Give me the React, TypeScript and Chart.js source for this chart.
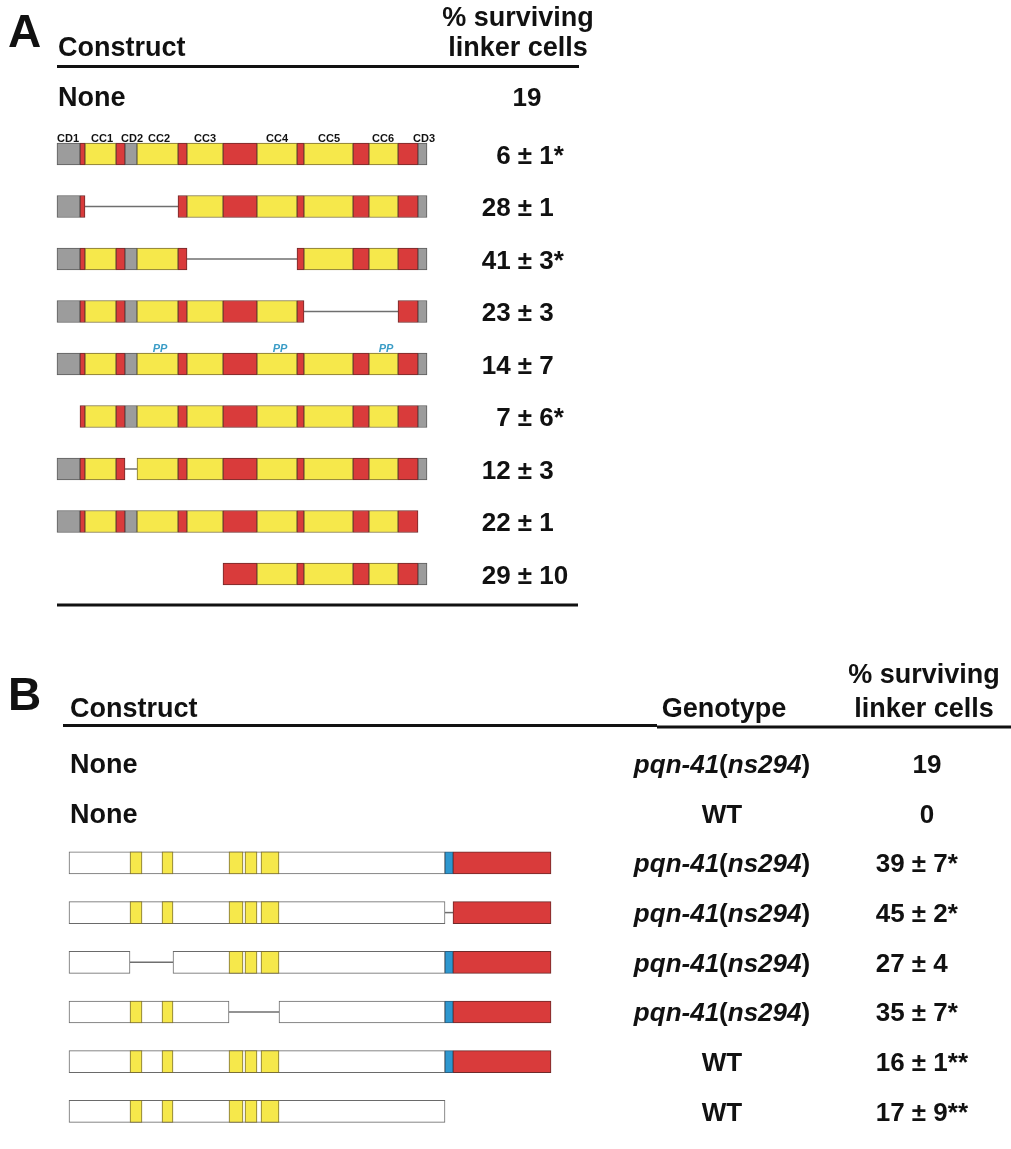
import React, { useEffect, useRef } from "react";
import { Chart, registerables } from "chart.js";

Chart.register(...registerables);

// ---------- Panel A data (positions in construct units along the protein) ----------
const aDomainNames = ["CD1", "CC1", "CD2", "CC2", "CC3", "CC4", "CC5", "CC6", "CD3"];
const aDomainLabelPos = [11, 45, 75, 102, 148, 220, 272, 326, 367];
const aSegStart = [0, 23, 28, 59, 68, 80, 121, 130, 166, 200, 240, 247, 296, 312, 341, 361];
const aSegEnd = [23, 28, 59, 68, 80, 121, 130, 166, 200, 240, 247, 296, 312, 341, 361, 370];
const aSegType = ["gray", "red", "yellow", "red", "gray", "yellow", "red", "yellow", "red", "yellow", "red", "yellow", "red", "yellow", "red", "gray"];
// kept regions for each construct (rows 1..9); gaps are drawn as thin lines
const aKept: number[][][] = [
  [[0, 370]],
  [[0, 28], [121, 370]],
  [[0, 130], [240, 370]],
  [[0, 247], [341, 370]],
  [[0, 370]],
  [[23, 370]],
  [[0, 68], [80, 370]],
  [[0, 361]],
  [[166, 370]],
];
const aPPRow = 5;
const aPPPos = [103, 223, 329];
const aLabels = ["None", "", "", "", "", "", "", "", "", ""];
const aMeans = [19, 6, 28, 41, 23, 14, 7, 12, 22, 29];
const aSem: (number | null)[] = [null, 1, 1, 3, 3, 7, 6, 3, 1, 10];
const aSig = ["", "*", "", "*", "", "", "*", "", "", ""];

// ---------- Panel B data ----------
const bSegStart = [0, 61, 93, 160, 176, 192, 376, 384];
const bSegEnd = [376, 73, 104, 174, 188, 210, 384, 482];
const bSegType = ["white", "yellow", "yellow", "yellow", "yellow", "yellow", "blue", "red"];
const bKept: number[][][] = [
  [],
  [],
  [[0, 482]],
  [[0, 376], [384, 482]],
  [[0, 61], [104, 482]],
  [[0, 160], [210, 482]],
  [[0, 482]],
  [[0, 376]],
];
const bLabels = ["None", "None", "", "", "", "", "", ""];
const bGenotypes = ["pqn-41(ns294)", "WT", "pqn-41(ns294)", "pqn-41(ns294)", "pqn-41(ns294)", "pqn-41(ns294)", "WT", "WT"];
const bMeans = [19, 0, 39, 45, 27, 35, 16, 17];
const bSem: (number | null)[] = [null, null, 7, 2, 4, 7, 1, 9];
const bSig = ["", "", "*", "*", "", "*", "**", "**"];

// ---------- styles ----------
const FONT = '"Liberation Sans", Arial, Helvetica, sans-serif';
const fnt = (size: number, style = "normal", weight = "bold") => `${style} ${weight} ${size}px ${FONT}`;
const fill: Record<string, string> = {
  gray: "#9c9c9c",
  yellow: "#f6e84b",
  red: "#d93b3b",
  white: "#ffffff",
  blue: "#2e97cf",
};
const border: Record<string, string> = {
  gray: "#5c5c5c",
  yellow: "#7a6e36",
  red: "#6e2a2a",
  white: "#6a6a6a",
  blue: "#2a5f80",
};
const order: Record<string, number> = { white: 10, gray: 2, yellow: 1, red: 2, blue: 2 };

function buildBars(
  kept: number[][][],
  rowOffset: number,
  segStart: number[],
  segEnd: number[],
  segType: string[],
  xId: string,
  yId: string
) {
  const types = Array.from(new Set(segType));
  const sets: any[] = [];
  types.forEach((t) => {
    const data: any[] = [];
    kept.forEach((intervals, r) => {
      intervals.forEach(([ks, ke]) => {
        segStart.forEach((s0, i) => {
          if (segType[i] !== t) return;
          const s = Math.max(s0, ks);
          const e = Math.min(segEnd[i], ke);
          if (e > s) data.push({ x: [s, e], y: r + rowOffset });
        });
      });
    });
    sets.push({
      type: "bar",
      indexAxis: "y",
      data,
      xAxisID: xId,
      yAxisID: yId,
      backgroundColor: fill[t],
      borderColor: border[t],
      borderWidth: 1,
      borderSkipped: false,
      barThickness: 22,
      grouped: false,
      order: order[t],
    });
  });
  kept.forEach((intervals, r) => {
    for (let k = 1; k < intervals.length; k++) {
      sets.push({
        type: "line",
        data: [
          { x: intervals[k - 1][1], y: r + rowOffset },
          { x: intervals[k][0], y: r + rowOffset },
        ],
        xAxisID: xId,
        yAxisID: yId,
        borderColor: "#6f6f6f",
        borderWidth: 1.5,
        pointRadius: 0,
        order: 20,
      });
    }
  });
  return sets;
}

function drawPM(ctx: CanvasRenderingContext2D, pmX: number, centerX: number, baseline: number, mean: number, sem: number | null, sig: string, size: number) {
  ctx.font = fnt(size);
  if (sem == null) {
    ctx.textAlign = "center";
    ctx.fillText(`${mean}${sig}`, centerX, baseline);
    return;
  }
  const w = ctx.measureText("±").width;
  ctx.textAlign = "right";
  ctx.fillText(`${mean} `, pmX - w / 2, baseline);
  ctx.textAlign = "center";
  ctx.fillText("±", pmX, baseline);
  ctx.textAlign = "left";
  ctx.fillText(` ${sem}${sig}`, pmX + w / 2, baseline);
}

function drawGenotype(ctx: CanvasRenderingContext2D, text: string, cx: number, baseline: number, size: number) {
  const parts = text.split(/([()])/).filter((p) => p !== "");
  const isWT = text === "WT";
  const fonts = parts.map((p) => (isWT || p === "(" || p === ")" ? fnt(size) : fnt(size, "italic")));
  let total = 0;
  const widths = parts.map((p, i) => {
    ctx.font = fonts[i];
    const w = ctx.measureText(p).width;
    total += w;
    return w;
  });
  let x = cx - total / 2;
  ctx.textAlign = "left";
  parts.forEach((p, i) => {
    ctx.font = fonts[i];
    ctx.fillText(p, x, baseline);
    x += widths[i];
  });
}

function rule(ctx: CanvasRenderingContext2D, x1: number, x2: number, y: number, w = 3) {
  ctx.beginPath();
  ctx.moveTo(x1, y);
  ctx.lineTo(x2, y);
  ctx.lineWidth = w;
  ctx.strokeStyle = "#111";
  ctx.stroke();
}

const textPlugin = {
  id: "tableText",
  afterDraw(chart: any) {
    const ctx: CanvasRenderingContext2D = chart.ctx;
    const xA = chart.scales.xA;
    const yA = chart.scales.yA;
    const yB = chart.scales.yB;
    ctx.save();
    ctx.fillStyle = "#111";
    ctx.textBaseline = "alphabetic";

    // ----- Panel A -----
    ctx.font = fnt(46);
    ctx.textAlign = "left";
    ctx.fillText("A", 8, 47);
    ctx.font = fnt(27);
    ctx.fillText("Construct", 58, 56);
    ctx.textAlign = "center";
    ctx.fillText("% surviving", 518, 26);
    ctx.fillText("linker cells", 518, 56);
    rule(ctx, 57, 579, 66.5);

    aMeans.forEach((m, r) => {
      let cy = yA.getPixelForValue(r);
      if (r === 0) cy -= 5.5;
      const base = cy + 9.5;
      if (aLabels[r]) {
        ctx.font = fnt(27);
        ctx.textAlign = "left";
        ctx.fillText(aLabels[r], 58, base);
      }
      drawPM(ctx, 525, 527, base, m, aSem[r], aSig[r], 26);
    });

    // domain labels above first construct
    ctx.font = fnt(11);
    ctx.textAlign = "center";
    const topRow = yA.getPixelForValue(1) - 12;
    aDomainNames.forEach((n, i) => ctx.fillText(n, xA.getPixelForValue(aDomainLabelPos[i]), topRow));

    // PP mutation marks
    ctx.font = fnt(11, "italic");
    ctx.fillStyle = "#3a9cc6";
    const ppY = yA.getPixelForValue(aPPRow) - 12.5;
    aPPPos.forEach((p) => ctx.fillText("PP", xA.getPixelForValue(p), ppY));
    ctx.fillStyle = "#111";

    rule(ctx, 57, 578, 605);

    // ----- Panel B -----
    ctx.font = fnt(46);
    ctx.textAlign = "left";
    ctx.fillText("B", 8, 710);
    ctx.font = fnt(27);
    ctx.fillText("Construct", 70, 717);
    ctx.textAlign = "center";
    ctx.fillText("Genotype", 724, 717);
    ctx.fillText("% surviving", 924, 683);
    ctx.fillText("linker cells", 924, 717);
    rule(ctx, 63, 657, 725.5);
    rule(ctx, 657, 1011, 727);

    bMeans.forEach((m, r) => {
      const cy = yB.getPixelForValue(r);
      const base = cy + 9.3;
      if (bLabels[r]) {
        ctx.font = fnt(27);
        ctx.textAlign = "left";
        ctx.fillText(bLabels[r], 70, base);
      }
      drawGenotype(ctx, bGenotypes[r], 722, base, 26);
      drawPM(ctx, 919, 927, base, m, bSem[r], bSig[r], 26);
    });

    ctx.restore();
  },
};

export default function App() {
  const ref = useRef<HTMLCanvasElement | null>(null);
  useEffect(() => {
    if (!ref.current) return;
    const datasets = [
      ...buildBars(aKept, 1, aSegStart, aSegEnd, aSegType, "xA", "yA"),
      ...buildBars(bKept, 0, bSegStart, bSegEnd, bSegType, "xB", "yB"),
    ];
    const yAmin = -101.5 / 52.5;
    const yBmin = -763.5 / 49.7;
    const hidden = { display: false, offset: false, grid: { offset: false } };
    const chart = new Chart(ref.current, {
      type: "bar",
      data: { datasets },
      options: {
        animation: false,
        responsive: false,
        events: [],
        layout: { padding: 0 },
        plugins: { legend: { display: false }, tooltip: { enabled: false }, title: { display: false } },
        scales: {
          xA: { type: "linear", axis: "x", ...hidden, min: -57, max: 954 },
          xB: { type: "linear", axis: "x", ...hidden, min: -69, max: 942 },
          yA: { type: "linear", axis: "y", ...hidden, reverse: true, min: yAmin, max: yAmin + 1149 / 52.5 },
          yB: { type: "linear", axis: "y", ...hidden, reverse: true, min: yBmin, max: yBmin + 1149 / 49.7 },
        },
      } as any,
      plugins: [textPlugin],
    });
    return () => chart.destroy();
  }, []);
  return (
    <div style={{ position: "absolute", left: 0, top: 0, width: 1011, height: 1149, background: "#fff" }}>
      <canvas ref={ref} width={1011} height={1149} style={{ display: "block", width: 1011, height: 1149 }} />
    </div>
  );
}
